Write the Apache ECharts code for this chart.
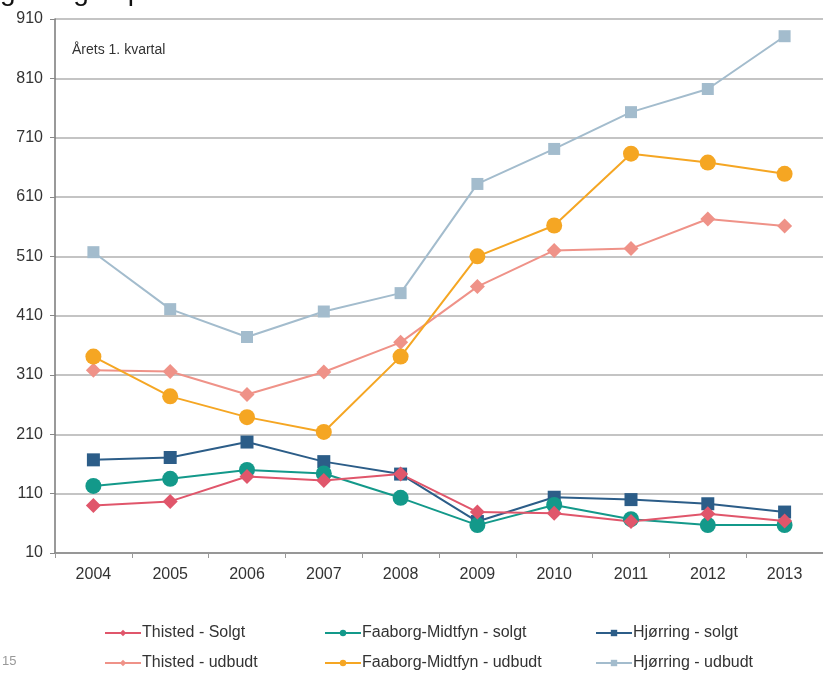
<!DOCTYPE html>
<html>
<head>
<meta charset="utf-8">
<script src="https://cdn.jsdelivr.net/npm/echarts@6/dist/echarts.min.js"></script>
<style>
html,body{margin:0;padding:0;background:#fff;}
#chart{width:823px;height:674px;}
</style>
</head>
<body>
<div id="chart"></div>
<script>
var years = ['2004','2005','2006','2007','2008','2009','2010','2011','2012','2013'];
var thistedSolgt   = [90, 97, 139, 132, 143, 79, 77, 63, 76, 64];
var faaborgSolgt   = [123, 135, 150, 144, 103, 57, 91, 67, 57, 57];
var hjorringSolgt  = [167, 171, 197, 164, 143, 63, 104, 100, 93, 79];
var thistedUdbudt  = [318, 316, 277, 315, 365, 459, 520, 523, 573, 561];
var faaborgUdbudt  = [341, 274, 239, 214, 341, 510, 562, 683, 668, 649];
var hjorringUdbudt = [517, 421, 374, 417, 448, 632, 691, 753, 792, 881];
var yMin = 10, yMax = 910, yStep = 100;

var font = '"Liberation Sans", Arial, sans-serif';
function mk(name, data, color, symbol, size) {
  return {
    name: name, type: 'line', data: data,
    symbol: symbol, symbolSize: size,
    lineStyle: { color: color, width: 2 },
    itemStyle: { color: color },
    z: 3
  };
}
var series = [
  mk('Hjørring - udbudt', hjorringUdbudt, '#a3bccd', 'rect', 12),
  mk('Thisted - udbudt', thistedUdbudt, '#ef9288', 'diamond', 15),
  mk('Faaborg-Midtfyn - udbudt', faaborgUdbudt, '#f5a623', 'circle', 16),
  mk('Hjørring - solgt', hjorringSolgt, '#2c5d88', 'rect', 13),
  mk('Faaborg-Midtfyn - solgt', faaborgSolgt, '#13998a', 'circle', 16),
  mk('Thisted - Solgt', thistedSolgt, '#e0566b', 'diamond', 15)
];
function lg(left, names) {
  return {
    orient: 'vertical', left: left, top: 625, itemGap: 14, padding: 0,
    itemWidth: 36, itemHeight: 8, data: names,
    textStyle: { fontFamily: font, fontSize: 16, color: '#333', padding: [0, 0, 0, -4] },
    selectedMode: false
  };
}
var chart = echarts.init(document.getElementById('chart'), null, {renderer: 'canvas'});
chart.setOption({
  animation: false,
  backgroundColor: '#fff',
  grid: { left: 55, top: 19, width: 771, height: 534 },
  legend: [
    lg(104, ['Thisted - Solgt', 'Thisted - udbudt']),
    lg(324, ['Faaborg-Midtfyn - solgt', 'Faaborg-Midtfyn - udbudt']),
    lg(595, ['Hjørring - solgt', 'Hjørring - udbudt'])
  ],
  xAxis: {
    type: 'category', data: years, boundaryGap: true,
    axisLine: { lineStyle: { color: '#888', width: 1.5 } },
    axisTick: { show: true, length: 5, lineStyle: { color: '#999' } },
    axisLabel: { fontFamily: font, fontSize: 16, color: '#333', margin: 14 }
  },
  yAxis: {
    type: 'value', min: yMin, max: yMax, interval: yStep,
    axisLine: { show: true, lineStyle: { color: '#777', width: 1.5 } },
    axisTick: { show: true, length: 5, lineStyle: { color: '#888' } },
    axisLabel: { fontFamily: font, fontSize: 16, color: '#333', margin: 12 },
    splitLine: { lineStyle: { color: '#b0b0b0', width: 1.5 } }
  },
  graphic: [
    { type: 'text', left: 72, top: 43, style: { text: 'Årets 1. kvartal', font: '14px ' + font, fill: '#333' } },
    { type: 'text', x: -98, y: -22, z: 10, style: { text: 'Udvikling i salg af parcelhuse', font: '28px ' + font, fill: '#111', verticalAlign: 'top' } },
    { type: 'text', left: 2, top: 655, style: { text: '15', font: '13px ' + font, fill: '#999' } }
  ],
  series: series
});
</script>
</body>
</html>
